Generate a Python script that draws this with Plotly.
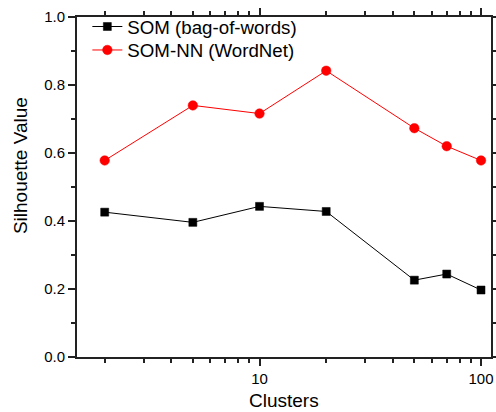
import plotly.graph_objects as go

clusters = [2, 5, 10, 20, 50, 70, 100]
som_bow = [0.426, 0.396, 0.443, 0.428, 0.226, 0.244, 0.197]
som_nn = [0.578, 0.740, 0.716, 0.842, 0.673, 0.620, 0.578]
x_tickvals = [10, 100]
x_ticktext = ["10", "100"]
x_minor = [2, 3, 4, 5, 6, 7, 8, 9, 20, 30, 40, 50, 60, 70, 80, 90]
y_tickvals = [0.0, 0.2, 0.4, 0.6, 0.8, 1.0]
y_ticktext = ["0.0", "0.2", "0.4", "0.6", "0.8", "1.0"]

FONT = "Liberation Sans, Arial, sans-serif"
AX = "#222222"

fig = go.Figure()
fig.add_trace(go.Scatter(
    x=clusters, y=som_bow, mode="lines+markers", name="SOM (bag-of-words)",
    line=dict(color="black", width=1), legend="legend",
    marker=dict(symbol="square", size=8, color="black", line=dict(color="black", width=0.5)),
))
fig.add_trace(go.Scatter(
    x=clusters, y=som_nn, mode="lines+markers", name="SOM-NN (WordNet)",
    line=dict(color="#ff0000", width=1), legend="legend2",
    marker=dict(symbol="circle", size=9.5, color="#ff0000", line=dict(color="#ff0000", width=0.5)),
))

leg_common = dict(xanchor="left", yanchor="middle", bgcolor="rgba(0,0,0,0)",
                  font=dict(size=18.7, family=FONT), itemsizing="trace")

fig.update_layout(
    width=496, height=412,
    margin=dict(l=77, r=5, t=17, b=55),
    paper_bgcolor="white", plot_bgcolor="white",
    font=dict(family=FONT, color="black"),
    showlegend=True,
    legend=dict(x=0.025, y=0.971, **leg_common),
    legend2=dict(x=0.025, y=0.902, **leg_common),
    annotations=[
        dict(text="Silhouette Value", textangle=-90, xref="paper", yref="paper",
             x=-0.138, y=0.564, xanchor="center", yanchor="middle",
             showarrow=False, font=dict(size=19, family=FONT)),
        dict(text="Clusters", xref="paper", yref="paper",
             x=0.5, y=-0.1615, xanchor="center", yanchor="bottom", borderpad=0,
             showarrow=False, font=dict(size=19, family=FONT)),
    ],
)

fig.update_xaxes(
    type="log", range=[0.176, 2.045], automargin=False,
    tickmode="array", tickvals=x_tickvals, ticktext=x_ticktext,
    ticks="outside", ticklen=7, tickwidth=1.5, tickcolor=AX,
    showline=True, linewidth=2, linecolor=AX, mirror="ticks",
    showgrid=False, zeroline=False,
    tickfont=dict(size=15, family=FONT),
    minor=dict(tickmode="array", tickvals=x_minor, ticks="outside", ticklen=4,
               tickwidth=1.5, tickcolor=AX, showgrid=False),
)
fig.update_yaxes(
    range=[0, 1.0], automargin=False,
    tickmode="array", tickvals=y_tickvals, ticktext=y_ticktext,
    ticks="outside", ticklen=7, tickwidth=1.5, tickcolor=AX,
    showline=True, linewidth=2, linecolor=AX, mirror="ticks",
    showgrid=False, zeroline=False,
    tickfont=dict(size=15, family=FONT),
    minor=dict(dtick=0.1, ticks="outside", ticklen=4, tickwidth=1.5, tickcolor=AX, showgrid=False),
)

fig.write_html("out.html", config={"displayModeBar": False},
               post_script="document.body.style.margin='0px';")
